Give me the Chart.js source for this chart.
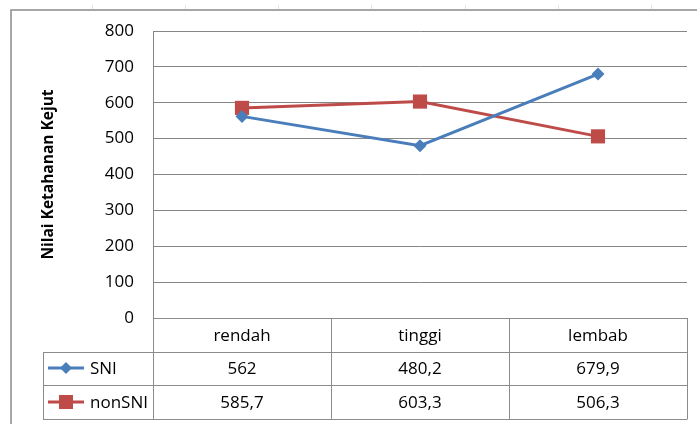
<!DOCTYPE html>
<html><head><meta charset="utf-8">
<script src="https://cdn.jsdelivr.net/npm/chart.js@4"></script>
<style>html,body{margin:0;padding:0;background:#fff}canvas{display:block}</style>
</head><body>
<canvas id="c" width="697" height="424"></canvas>
<script>
const categories = ['rendah', 'tinggi', 'lembab'];
const seriesNames = ['SNI', 'nonSNI'];
const sniValues = [562, 480.2, 679.9];
const nonSniValues = [585.7, 603.3, 506.3];
const yTicks = [0, 100, 200, 300, 400, 500, 600, 700, 800];
const yTitle = 'Nilai Ketahanan Kejut';

const BLUE = '#4A7EBB', RED = '#BE4B48';
const FONT = "'Open Sans', sans-serif";

const fmt = v => String(v).replace('.', ',');

const tablePlugin = {
  id: 'tablePlugin',
  beforeDraw(chart) {
    const ctx = chart.ctx;
    ctx.save();
    ctx.strokeStyle = '#dde3ec'; ctx.lineWidth = 1;
    [92,185,278,371,465,558,651].forEach(x => { ctx.beginPath(); ctx.moveTo(x+0.5,5); ctx.lineTo(x+0.5,9); ctx.stroke(); });
    ctx.strokeStyle = '#8a8a8a'; ctx.lineWidth = 1.5;
    ctx.strokeRect(11, 10, 700, 430);
    ctx.restore();
  },
  afterDraw(chart) {
    const ctx = chart.ctx;
    const xs = chart.scales.x;
    const area = chart.chartArea;
    const top = area.bottom;
    const rowH = 33.5;
    const left = area.left, right = area.right;
    const colW = (right - left) / categories.length;
    const legLeft = 43;
    ctx.save();
    ctx.strokeStyle = '#8c8c8c'; ctx.lineWidth = 1;
    const line = (x1,y1,x2,y2) => { ctx.beginPath(); ctx.moveTo(x1,y1); ctx.lineTo(x2,y2); ctx.stroke(); };
    line(left, top + 0.5, right, top + 0.5);
    for (let r = 1; r <= 3; r++) {
      const y = Math.round(top + r * rowH) + 0.5;
      line(legLeft, y, right, y);
    }
    line(legLeft + 0.5, Math.round(top + rowH) + 0.5, legLeft + 0.5, Math.round(top + 3*rowH) + 0.5);
    for (let i = 0; i <= categories.length; i++) {
      const x = Math.round(left + i * colW) + 0.5;
      line(x, top, x, Math.round(top + 3*rowH) + 0.5);
    }
    ctx.fillStyle = '#000';
    ctx.font = '17px ' + FONT;
    ctx.textAlign = 'center'; ctx.textBaseline = 'middle';
    categories.forEach((c, i) => {
      ctx.fillText(c, xs.getPixelForValue(i), top + rowH * 0.5 + 1);
    });
    const series = [sniValues, nonSniValues];
    const colors = [BLUE, RED];
    series.forEach((vals, s) => {
      const cy = top + rowH * (s + 1.5) + 1;
      vals.forEach((v, i) => {
        ctx.fillText(fmt(v), xs.getPixelForValue(i), cy);
      });
      const ky = Math.round(top + rowH * (s + 1.5));
      ctx.strokeStyle = colors[s]; ctx.lineWidth = 3;
      line(48, ky, 84, ky);
      ctx.fillStyle = colors[s];
      ctx.beginPath();
      if (s === 0) {
        ctx.moveTo(66, ky - 6); ctx.lineTo(72, ky); ctx.lineTo(66, ky + 6); ctx.lineTo(60, ky);
        ctx.closePath(); ctx.fill();
      } else {
        ctx.fillRect(59, ky - 7, 14, 14);
      }
      ctx.fillStyle = '#000';
      ctx.textAlign = 'left';
      ctx.fillText(seriesNames[s], 90, cy);
      ctx.textAlign = 'center';
    });
    ctx.restore();
  }
};

new Chart(document.getElementById('c'), {
  type: 'line',
  data: {
    labels: categories,
    datasets: [
      { label: seriesNames[0], data: sniValues, borderColor: BLUE, backgroundColor: BLUE,
        borderWidth: 3, pointStyle: 'rectRot', pointRadius: 6.5, pointHoverRadius: 6.5,
        pointBorderWidth: 0, tension: 0 },
      { label: seriesNames[1], data: nonSniValues, borderColor: RED, backgroundColor: RED,
        borderWidth: 3, pointStyle: 'rect', pointRadius: 10, pointHoverRadius: 10,
        pointBorderWidth: 0, tension: 0 }
    ]
  },
  options: {
    responsive: false,
    animation: false,
    layout: { padding: { left: 0, top: 31, right: 9, bottom: 106 } },
    plugins: { legend: { display: false }, tooltip: { enabled: false } },
    scales: {
      x: { type: 'category', offset: true, display: false },
      y: {
        min: 0, max: 800,
        afterBuildTicks: s => { s.ticks = yTicks.map(v => ({ value: v })); },
        afterFit: s => { s.width = 153; },
        ticks: { color: '#000', padding: 19, font: { family: FONT, size: 17 } },
        grid: { color: '#868686', lineWidth: 1, drawTicks: false },
        border: { display: true, color: '#868686', width: 1 },
        title: { display: true, text: yTitle, color: '#000',
          font: { family: FONT, size: 15.5, weight: 'bold' }, padding: { top: 39, bottom: 0 } }
      }
    }
  },
  plugins: [tablePlugin]
});
</script>
</body></html>
